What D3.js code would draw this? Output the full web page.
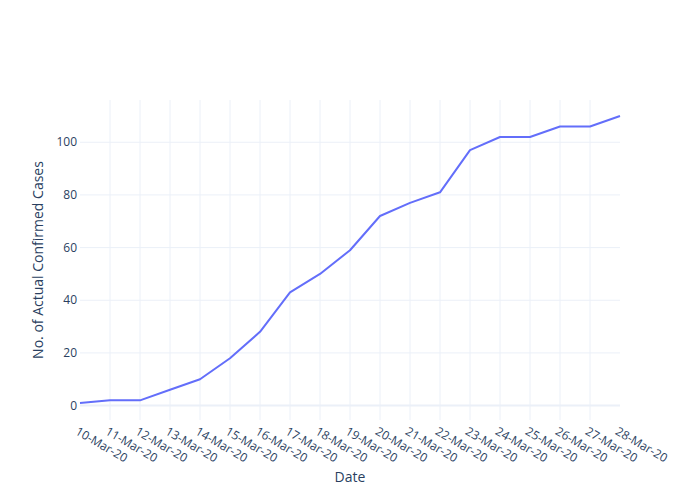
<!DOCTYPE html>
<html>
<head>
<meta charset="utf-8">
<script src="https://cdn.jsdelivr.net/npm/d3@7"></script>
<style>
  body { margin: 0; background: #fff; }
  svg { font-family: "Open Sans", sans-serif; }
</style>
</head>
<body>
<svg id="chart" width="700" height="500"></svg>
<script>
const dates = ["10-Mar-20","11-Mar-20","12-Mar-20","13-Mar-20","14-Mar-20","15-Mar-20","16-Mar-20","17-Mar-20","18-Mar-20","19-Mar-20","20-Mar-20","21-Mar-20","22-Mar-20","23-Mar-20","24-Mar-20","25-Mar-20","26-Mar-20","27-Mar-20","28-Mar-20"];
const cases = [1,2,2,6,10,18,28,43,50,59,72,77,81,97,102,102,106,106,110];
const yTicks = [0,20,40,60,80,100];
const xTitle = "Date";
const yTitle = "No. of Actual Confirmed Cases";

const W = 700, H = 500;
const m = {l: 80, r: 80, t: 100, b: 80};
const svg = d3.select("#chart");
const textColor = "#2a3f5f", gridColor = "#ebf0f8";

const x = d3.scalePoint().domain(dates).range([m.l, W - m.r]);
const y = d3.scaleLinear().domain([-5.47, 116.05]).range([H - m.b, m.t]);

// vertical grid
const g = svg.append("g");
g.selectAll("line.vg").data(dates.slice(1, -1)).enter().append("line")
  .attr("x1", d => x(d)).attr("x2", d => x(d))
  .attr("y1", m.t).attr("y2", H - m.b)
  .attr("stroke", gridColor).attr("stroke-width", 1);
// horizontal grid
g.selectAll("line.hg").data(yTicks).enter().append("line")
  .attr("x1", m.l).attr("x2", W - m.r)
  .attr("y1", d => y(d)).attr("y2", d => y(d))
  .attr("stroke", gridColor).attr("stroke-width", d => d === 0 ? 2 : 1);

// y tick labels
svg.append("g").selectAll("text").data(yTicks).enter().append("text")
  .attr("x", m.l - 3).attr("y", d => y(d)).attr("dy", "0.35em")
  .attr("text-anchor", "end").attr("font-size", 12).attr("fill", textColor)
  .text(d => d);

// x tick labels
svg.append("g").selectAll("text").data(dates).enter().append("text")
  .attr("transform", d => `translate(${x(d) - 1},${H - m.b + 6}) rotate(30)`)
  .attr("dy", "0.75em")
  .attr("text-anchor", "start").attr("font-size", 12).attr("fill", textColor)
  .text(d => d);

// line
const line = d3.line().x((d, i) => x(dates[i])).y(d => y(d));
svg.append("path").datum(cases)
  .attr("d", line).attr("fill", "none")
  .attr("stroke", "#636efa").attr("stroke-width", 2).attr("stroke-linejoin", "round");

// titles
svg.append("text").attr("x", (m.l + W - m.r) / 2).attr("y", 482)
  .attr("text-anchor", "middle").attr("font-size", 14).attr("fill", textColor).text(xTitle);
svg.append("text").attr("transform", `translate(43,${(m.t + H - m.b) / 2}) rotate(-90)`)
  .attr("text-anchor", "middle").attr("font-size", 14).attr("fill", textColor).text(yTitle);
</script>
</body>
</html>
